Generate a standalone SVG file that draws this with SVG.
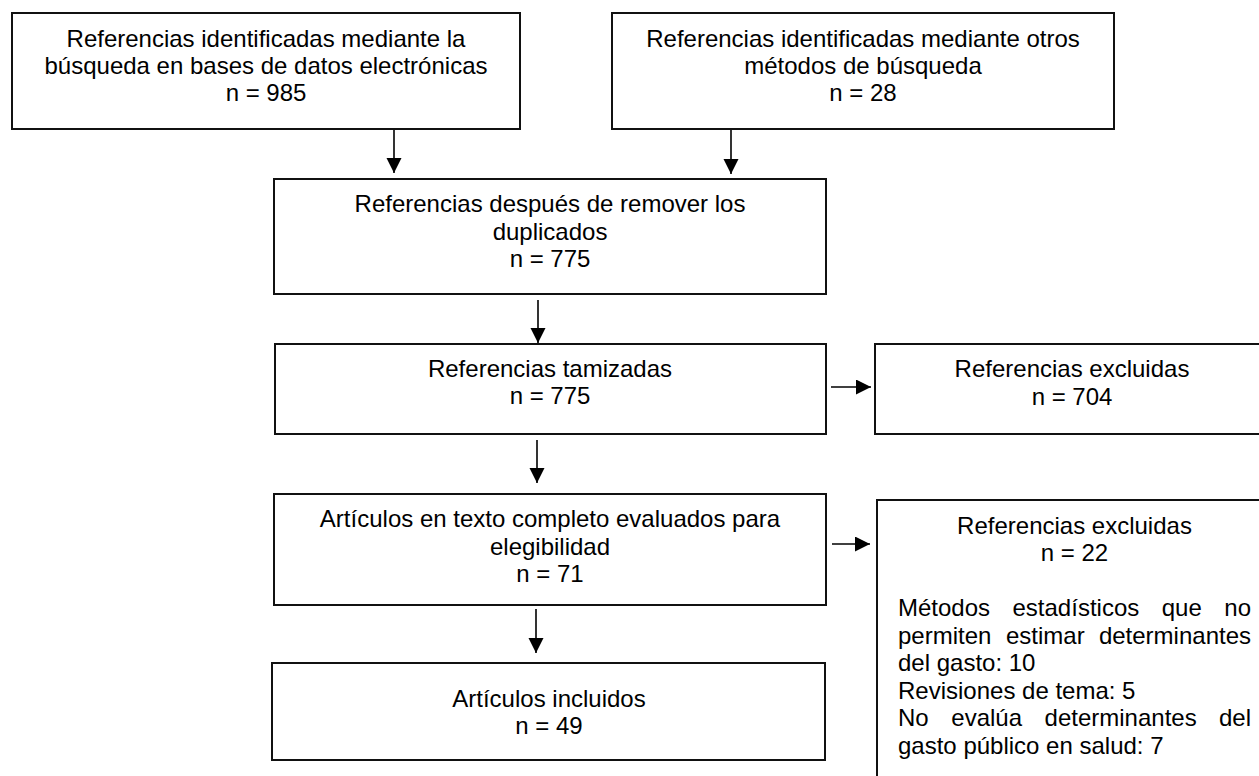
<svg xmlns="http://www.w3.org/2000/svg" width="1259" height="776" viewBox="0 0 1259 776">
<style>
.box{fill:#fff;stroke:#111;stroke-width:2}
.t{font-family:"Liberation Sans",Arial,sans-serif;font-size:24px;fill:#000}
.c{text-anchor:middle}
.e{text-anchor:end}
.ln{stroke:#000;stroke-width:1.6;fill:none}
</style>
<defs>
<marker id="ah" markerUnits="userSpaceOnUse" markerWidth="16" markerHeight="16" refX="15" refY="7.5" orient="auto">
<path d="M0,0 L15,7.5 L0,15 z" fill="#000"/>
</marker>
</defs>
<rect width="1259" height="776" fill="#fff"/>
<g id="connectors">
<line class="ln" x1="394" y1="130" x2="394" y2="173" marker-end="url(#ah)"/>
<line class="ln" x1="731" y1="130" x2="731" y2="174" marker-end="url(#ah)"/>
<line class="ln" x1="538" y1="300" x2="538" y2="343" marker-end="url(#ah)"/>
<line class="ln" x1="537" y1="440" x2="537" y2="483" marker-end="url(#ah)"/>
<line class="ln" x1="536" y1="609" x2="536" y2="653" marker-end="url(#ah)"/>
<line class="ln" x1="831" y1="387" x2="871" y2="387" marker-end="url(#ah)"/>
<line class="ln" x1="832" y1="544" x2="870" y2="544" marker-end="url(#ah)"/>
</g>
<g id="n1">
<rect class="box" x="12" y="13" width="508" height="116"/>
<text class="t c"><tspan x="266" y="47">Referencias identificadas mediante la</tspan><tspan x="266" y="74">búsqueda en bases de datos electrónicas</tspan><tspan x="266" y="101">n = 985</tspan></text>
</g>
<g id="n2">
<rect class="box" x="612" y="13" width="502" height="116"/>
<text class="t c"><tspan x="863" y="47">Referencias identificadas mediante otros</tspan><tspan x="863" y="74">métodos de búsqueda</tspan><tspan x="863" y="101">n = 28</tspan></text>
</g>
<g id="n3">
<rect class="box" x="274" y="179" width="552" height="115"/>
<text class="t c"><tspan x="550" y="212">Referencias después de remover los</tspan><tspan x="550" y="239.5">duplicados</tspan><tspan x="550" y="267">n = 775</tspan></text>
</g>
<g id="n4">
<rect class="box" x="275" y="344" width="551" height="90"/>
<text class="t c"><tspan x="550" y="377">Referencias tamizadas</tspan><tspan x="550" y="404">n = 775</tspan></text>
</g>
<g id="n5">
<rect class="box" x="875" y="344" width="395" height="90"/>
<text class="t c"><tspan x="1072" y="377">Referencias excluidas</tspan><tspan x="1072" y="405">n = 704</tspan></text>
</g>
<g id="n6">
<rect class="box" x="274" y="494" width="552" height="111"/>
<text class="t c"><tspan x="550" y="527">Artículos en texto completo evaluados para</tspan><tspan x="550" y="554.5">elegibilidad</tspan><tspan x="550" y="582">n = 71</tspan></text>
</g>
<g id="n7">
<rect class="box" x="272" y="663" width="553" height="97"/>
<text class="t c"><tspan x="549" y="707">Artículos incluidos</tspan><tspan x="549" y="734">n = 49</tspan></text>
</g>
<g id="n8">
<rect class="box" x="877" y="500" width="395" height="290"/>
<text class="t c"><tspan x="1074.5" y="533.5">Referencias excluidas</tspan><tspan x="1074.5" y="561">n = 22</tspan></text>
<text class="t"><tspan x="898" y="616">Métodos</tspan><tspan x="1012.5" y="616">estadísticos</tspan><tspan x="1161.7" y="616">que</tspan><tspan x="1251" y="616" text-anchor="end">no</tspan></text>
<text class="t"><tspan x="898" y="643.5">permiten</tspan><tspan x="1006" y="643.5">estimar</tspan><tspan x="1251" y="643.5" text-anchor="end">determinantes</tspan></text>
<text class="t"><tspan x="898" y="671">del gasto: 10</tspan></text>
<text class="t"><tspan x="898" y="698.5">Revisiones de tema: 5</tspan></text>
<text class="t"><tspan x="898" y="726">No</tspan><tspan x="951.3" y="726">evalúa</tspan><tspan x="1044.6" y="726">determinantes</tspan><tspan x="1251" y="726" text-anchor="end">del</tspan></text>
<text class="t"><tspan x="898" y="753.5">gasto público en salud: 7</tspan></text>
</g>
</svg>
